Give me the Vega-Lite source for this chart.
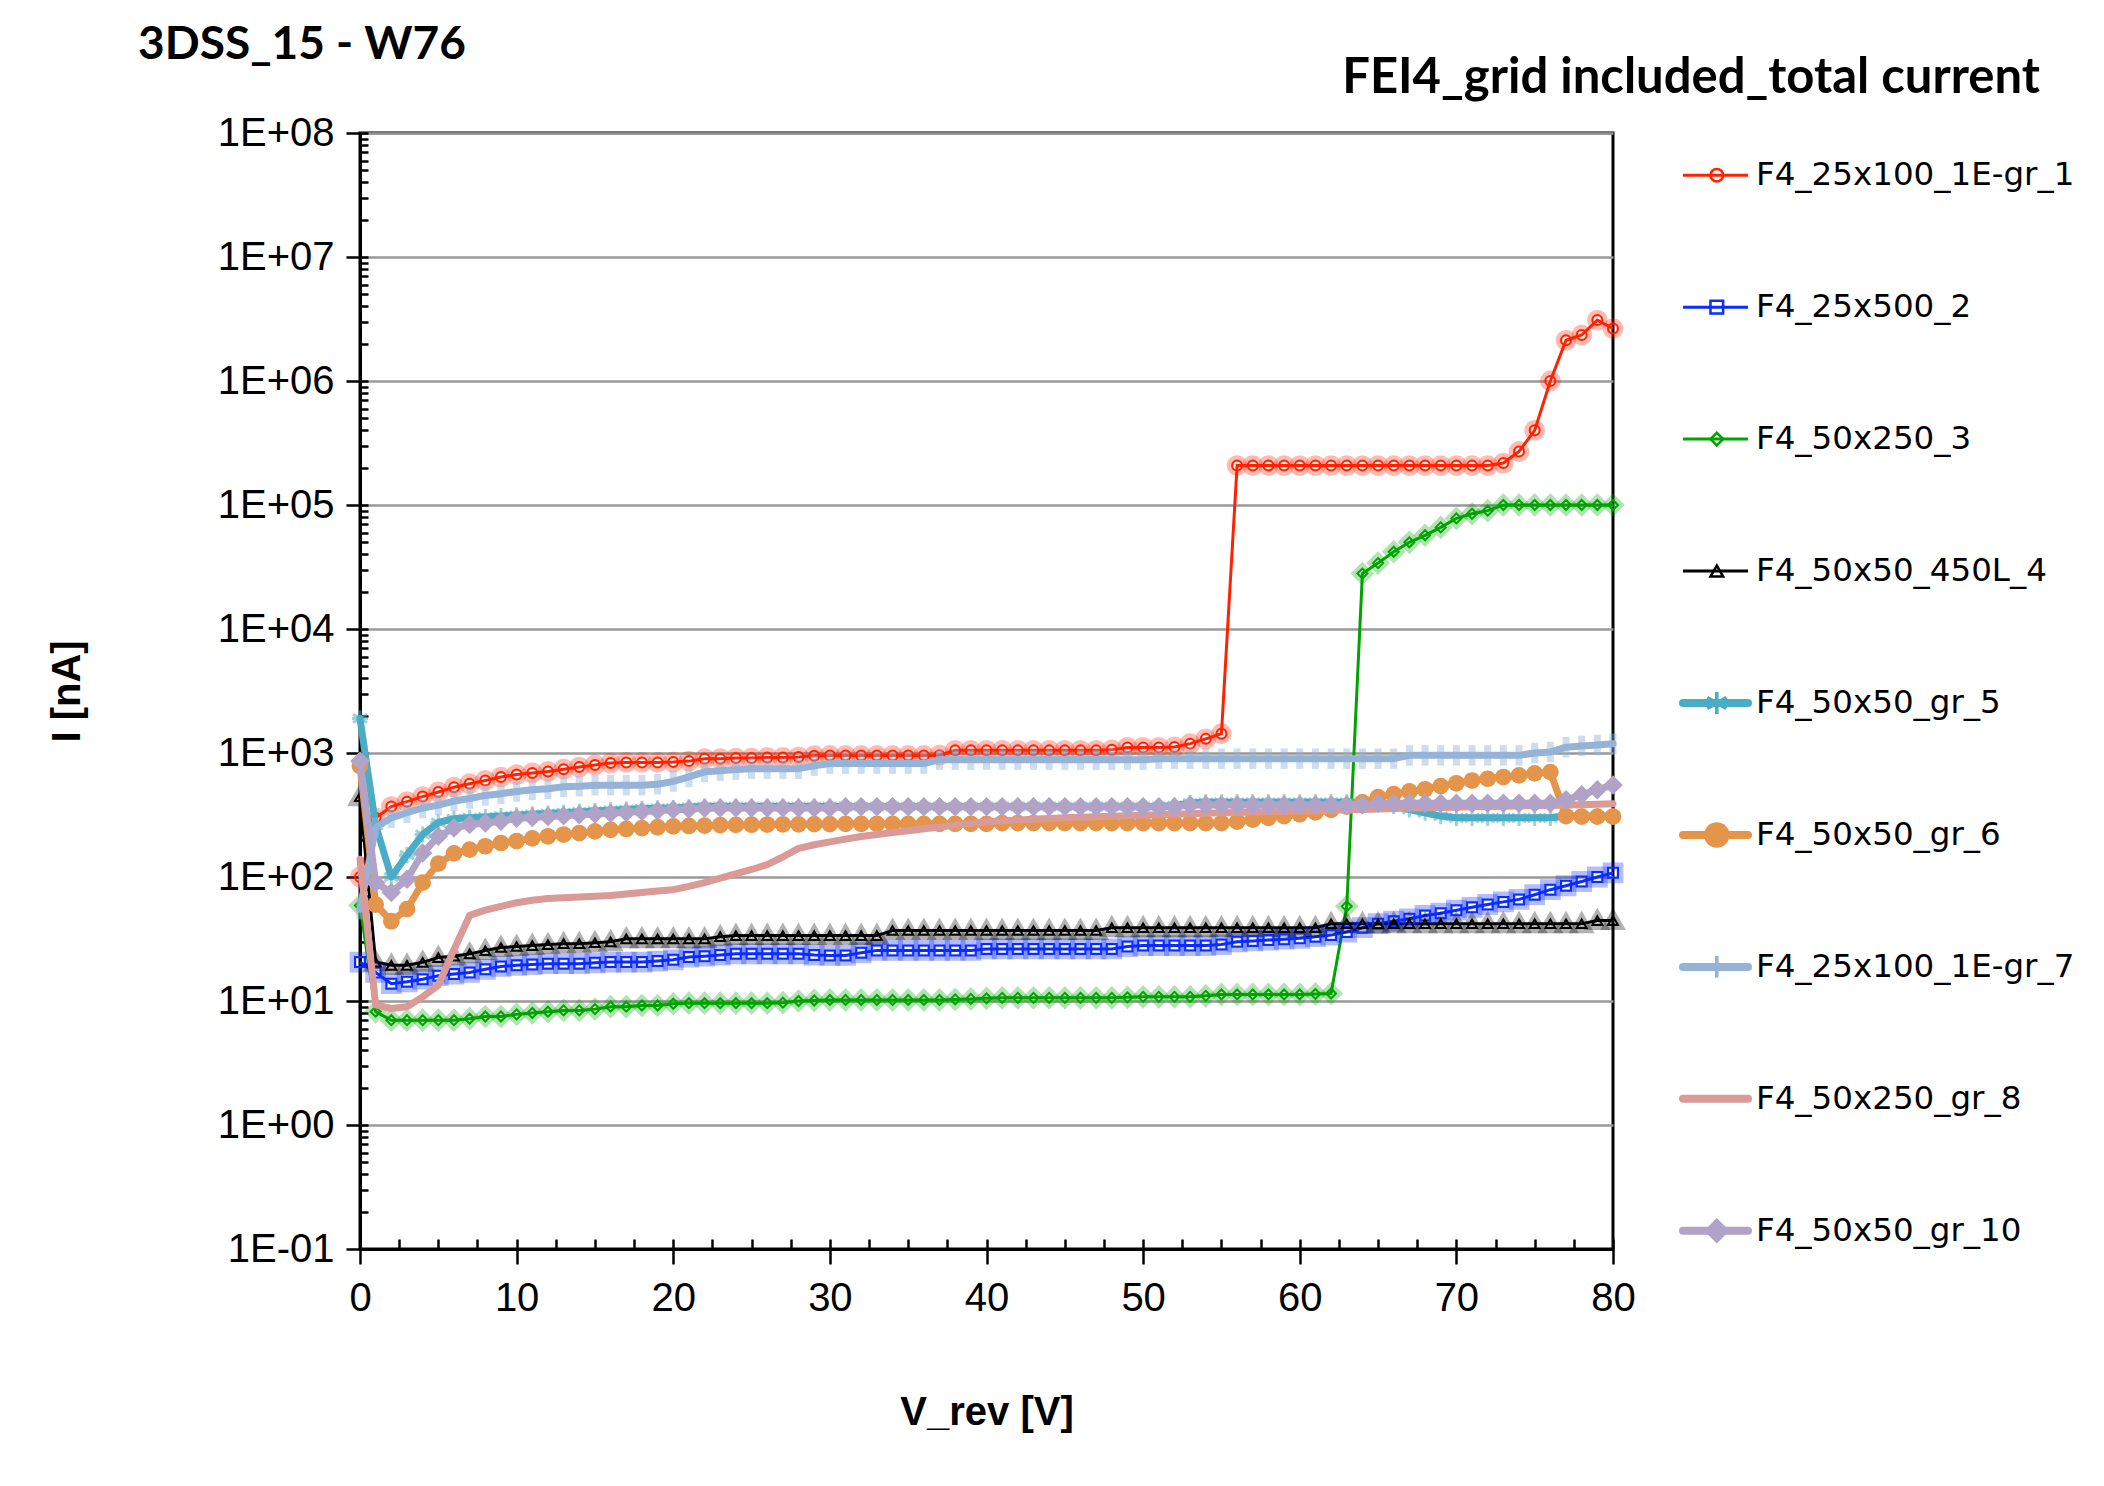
{
"$schema": "https://vega.github.io/schema/vega-lite/v6.json",
"background": "white",
"padding": {"left": 45, "top": 20, "right": 5, "bottom": 5},
"bounds": "flush",
"spacing": 70,
"config": {"font": "Liberation Sans", "view": {"stroke": null}},
"datasets": {
"series": [{"s":1,"name":"F4_25x100_1E-gr_1"},{"s":2,"name":"F4_25x500_2"},{"s":3,"name":"F4_50x250_3"},{"s":4,"name":"F4_50x50_450L_4"},{"s":5,"name":"F4_50x50_gr_5"},{"s":6,"name":"F4_50x50_gr_6"},{"s":7,"name":"F4_25x100_1E-gr_7"},{"s":8,"name":"F4_50x250_gr_8"},{"s":10,"name":"F4_50x50_gr_10"}],
"iv": [
{"s":1,"v":0,"i":100},{"s":1,"v":1,"i":300},{"s":1,"v":2,"i":370},{"s":1,"v":3,"i":405},{"s":1,"v":4,"i":445},{"s":1,"v":5,"i":485},{"s":1,"v":6,"i":530},{"s":1,"v":7,"i":565},{"s":1,"v":8,"i":600},{"s":1,"v":9,"i":640},{"s":1,"v":10,"i":670},{"s":1,"v":11,"i":690},{"s":1,"v":12,"i":710},{"s":1,"v":13,"i":740},{"s":1,"v":14,"i":770},{"s":1,"v":15,"i":800},{"s":1,"v":16,"i":830},{"s":1,"v":17,"i":840},{"s":1,"v":18,"i":840},{"s":1,"v":19,"i":840},{"s":1,"v":20,"i":845},{"s":1,"v":21,"i":860},{"s":1,"v":22,"i":900},{"s":1,"v":23,"i":900},{"s":1,"v":24,"i":910},{"s":1,"v":25,"i":910},{"s":1,"v":26,"i":920},{"s":1,"v":27,"i":920},{"s":1,"v":28,"i":930},{"s":1,"v":29,"i":950},{"s":1,"v":30,"i":955},{"s":1,"v":31,"i":955},{"s":1,"v":32,"i":955},{"s":1,"v":33,"i":955},{"s":1,"v":34,"i":955},{"s":1,"v":35,"i":955},{"s":1,"v":36,"i":955},{"s":1,"v":37,"i":960},{"s":1,"v":38,"i":1050},{"s":1,"v":39,"i":1050},{"s":1,"v":40,"i":1050},{"s":1,"v":41,"i":1050},{"s":1,"v":42,"i":1050},{"s":1,"v":43,"i":1050},{"s":1,"v":44,"i":1050},{"s":1,"v":45,"i":1050},{"s":1,"v":46,"i":1050},{"s":1,"v":47,"i":1050},{"s":1,"v":48,"i":1060},{"s":1,"v":49,"i":1110},{"s":1,"v":50,"i":1110},{"s":1,"v":51,"i":1110},{"s":1,"v":52,"i":1120},{"s":1,"v":53,"i":1190},{"s":1,"v":54,"i":1300},{"s":1,"v":55,"i":1430},{"s":1,"v":56,"i":208000},{"s":1,"v":57,"i":208000},{"s":1,"v":58,"i":208000},{"s":1,"v":59,"i":208000},{"s":1,"v":60,"i":208000},{"s":1,"v":61,"i":208000},{"s":1,"v":62,"i":208000},{"s":1,"v":63,"i":208000},{"s":1,"v":64,"i":208000},{"s":1,"v":65,"i":208000},{"s":1,"v":66,"i":208000},{"s":1,"v":67,"i":208000},{"s":1,"v":68,"i":208000},{"s":1,"v":69,"i":208000},{"s":1,"v":70,"i":208000},{"s":1,"v":71,"i":208000},{"s":1,"v":72,"i":208000},{"s":1,"v":73,"i":218000},{"s":1,"v":74,"i":270000},{"s":1,"v":75,"i":400000},{"s":1,"v":76,"i":1000000},{"s":1,"v":77,"i":2130000},{"s":1,"v":78,"i":2350000},{"s":1,"v":79,"i":3100000},{"s":1,"v":80,"i":2650000},
{"s":2,"v":0,"i":20.6},{"s":2,"v":1,"i":17},{"s":2,"v":2,"i":13.8},{"s":2,"v":3,"i":14.3},{"s":2,"v":4,"i":15},{"s":2,"v":5,"i":16},{"s":2,"v":6,"i":16.5},{"s":2,"v":7,"i":17},{"s":2,"v":8,"i":18},{"s":2,"v":9,"i":19},{"s":2,"v":10,"i":19.4},{"s":2,"v":11,"i":19.7},{"s":2,"v":12,"i":20},{"s":2,"v":13,"i":20},{"s":2,"v":14,"i":20},{"s":2,"v":15,"i":20.3},{"s":2,"v":16,"i":20.6},{"s":2,"v":17,"i":20.6},{"s":2,"v":18,"i":20.6},{"s":2,"v":19,"i":21},{"s":2,"v":20,"i":21.5},{"s":2,"v":21,"i":22.6},{"s":2,"v":22,"i":23},{"s":2,"v":23,"i":23.5},{"s":2,"v":24,"i":24},{"s":2,"v":25,"i":24},{"s":2,"v":26,"i":24},{"s":2,"v":27,"i":24},{"s":2,"v":28,"i":24},{"s":2,"v":29,"i":23.5},{"s":2,"v":30,"i":23.3},{"s":2,"v":31,"i":23.3},{"s":2,"v":32,"i":24.5},{"s":2,"v":33,"i":25.6},{"s":2,"v":34,"i":25.6},{"s":2,"v":35,"i":25.6},{"s":2,"v":36,"i":25.6},{"s":2,"v":37,"i":25.6},{"s":2,"v":38,"i":25.6},{"s":2,"v":39,"i":25.6},{"s":2,"v":40,"i":26.3},{"s":2,"v":41,"i":26.3},{"s":2,"v":42,"i":26.3},{"s":2,"v":43,"i":26.3},{"s":2,"v":44,"i":26.3},{"s":2,"v":45,"i":26.3},{"s":2,"v":46,"i":26.3},{"s":2,"v":47,"i":26.3},{"s":2,"v":48,"i":26.3},{"s":2,"v":49,"i":27.5},{"s":2,"v":50,"i":28},{"s":2,"v":51,"i":28},{"s":2,"v":52,"i":28},{"s":2,"v":53,"i":28},{"s":2,"v":54,"i":28},{"s":2,"v":55,"i":28.5},{"s":2,"v":56,"i":30},{"s":2,"v":57,"i":30.5},{"s":2,"v":58,"i":31},{"s":2,"v":59,"i":31.5},{"s":2,"v":60,"i":32},{"s":2,"v":61,"i":33},{"s":2,"v":62,"i":34},{"s":2,"v":63,"i":36},{"s":2,"v":64,"i":39},{"s":2,"v":65,"i":42},{"s":2,"v":66,"i":44},{"s":2,"v":67,"i":46},{"s":2,"v":68,"i":49},{"s":2,"v":69,"i":51},{"s":2,"v":70,"i":54},{"s":2,"v":71,"i":57},{"s":2,"v":72,"i":60},{"s":2,"v":73,"i":63},{"s":2,"v":74,"i":66},{"s":2,"v":75,"i":72},{"s":2,"v":76,"i":79},{"s":2,"v":77,"i":85},{"s":2,"v":78,"i":92},{"s":2,"v":79,"i":100},{"s":2,"v":80,"i":108},
{"s":3,"v":0,"i":59},{"s":3,"v":1,"i":8.2},{"s":3,"v":2,"i":7},{"s":3,"v":3,"i":7},{"s":3,"v":4,"i":7},{"s":3,"v":5,"i":7},{"s":3,"v":6,"i":7},{"s":3,"v":7,"i":7.2},{"s":3,"v":8,"i":7.5},{"s":3,"v":9,"i":7.5},{"s":3,"v":10,"i":7.8},{"s":3,"v":11,"i":8},{"s":3,"v":12,"i":8.2},{"s":3,"v":13,"i":8.4},{"s":3,"v":14,"i":8.4},{"s":3,"v":15,"i":8.6},{"s":3,"v":16,"i":9},{"s":3,"v":17,"i":9},{"s":3,"v":18,"i":9.2},{"s":3,"v":19,"i":9.2},{"s":3,"v":20,"i":9.5},{"s":3,"v":21,"i":9.6},{"s":3,"v":22,"i":9.6},{"s":3,"v":23,"i":9.6},{"s":3,"v":24,"i":9.6},{"s":3,"v":25,"i":9.6},{"s":3,"v":26,"i":9.6},{"s":3,"v":27,"i":9.7},{"s":3,"v":28,"i":10},{"s":3,"v":29,"i":10.1},{"s":3,"v":30,"i":10.2},{"s":3,"v":31,"i":10.2},{"s":3,"v":32,"i":10.2},{"s":3,"v":33,"i":10.2},{"s":3,"v":34,"i":10.2},{"s":3,"v":35,"i":10.2},{"s":3,"v":36,"i":10.2},{"s":3,"v":37,"i":10.2},{"s":3,"v":38,"i":10.3},{"s":3,"v":39,"i":10.4},{"s":3,"v":40,"i":10.5},{"s":3,"v":41,"i":10.6},{"s":3,"v":42,"i":10.6},{"s":3,"v":43,"i":10.6},{"s":3,"v":44,"i":10.6},{"s":3,"v":45,"i":10.6},{"s":3,"v":46,"i":10.6},{"s":3,"v":47,"i":10.6},{"s":3,"v":48,"i":10.6},{"s":3,"v":49,"i":10.7},{"s":3,"v":50,"i":10.8},{"s":3,"v":51,"i":10.8},{"s":3,"v":52,"i":10.8},{"s":3,"v":53,"i":10.8},{"s":3,"v":54,"i":11},{"s":3,"v":55,"i":11.3},{"s":3,"v":56,"i":11.3},{"s":3,"v":57,"i":11.3},{"s":3,"v":58,"i":11.3},{"s":3,"v":59,"i":11.3},{"s":3,"v":60,"i":11.3},{"s":3,"v":61,"i":11.4},{"s":3,"v":62,"i":11.5},{"s":3,"v":63,"i":58},{"s":3,"v":64,"i":28000},{"s":3,"v":65,"i":34000},{"s":3,"v":66,"i":42000},{"s":3,"v":67,"i":50000},{"s":3,"v":68,"i":57000},{"s":3,"v":69,"i":66000},{"s":3,"v":70,"i":78000},{"s":3,"v":71,"i":85000},{"s":3,"v":72,"i":90000},{"s":3,"v":73,"i":100000},{"s":3,"v":74,"i":100000},{"s":3,"v":75,"i":100000},{"s":3,"v":76,"i":100000},{"s":3,"v":77,"i":100000},{"s":3,"v":78,"i":100000},{"s":3,"v":79,"i":100000},{"s":3,"v":80,"i":100000},
{"s":4,"v":0,"i":444},{"s":4,"v":1,"i":20.6},{"s":4,"v":2,"i":19.4},{"s":4,"v":3,"i":19.4},{"s":4,"v":4,"i":20.5},{"s":4,"v":5,"i":22.4},{"s":4,"v":6,"i":23},{"s":4,"v":7,"i":24},{"s":4,"v":8,"i":25.5},{"s":4,"v":9,"i":27},{"s":4,"v":10,"i":27.5},{"s":4,"v":11,"i":28},{"s":4,"v":12,"i":28.5},{"s":4,"v":13,"i":29},{"s":4,"v":14,"i":29},{"s":4,"v":15,"i":29.5},{"s":4,"v":16,"i":30},{"s":4,"v":17,"i":31.7},{"s":4,"v":18,"i":31.7},{"s":4,"v":19,"i":31.7},{"s":4,"v":20,"i":31.7},{"s":4,"v":21,"i":31.7},{"s":4,"v":22,"i":31.7},{"s":4,"v":23,"i":33},{"s":4,"v":24,"i":33.7},{"s":4,"v":25,"i":33.7},{"s":4,"v":26,"i":33.7},{"s":4,"v":27,"i":33.7},{"s":4,"v":28,"i":33.7},{"s":4,"v":29,"i":33.7},{"s":4,"v":30,"i":33.7},{"s":4,"v":31,"i":33.7},{"s":4,"v":32,"i":33.7},{"s":4,"v":33,"i":33.7},{"s":4,"v":34,"i":37},{"s":4,"v":35,"i":37},{"s":4,"v":36,"i":37},{"s":4,"v":37,"i":37},{"s":4,"v":38,"i":37},{"s":4,"v":39,"i":37},{"s":4,"v":40,"i":37},{"s":4,"v":41,"i":37},{"s":4,"v":42,"i":37},{"s":4,"v":43,"i":37},{"s":4,"v":44,"i":37},{"s":4,"v":45,"i":37},{"s":4,"v":46,"i":37},{"s":4,"v":47,"i":37},{"s":4,"v":48,"i":39},{"s":4,"v":49,"i":39},{"s":4,"v":50,"i":39},{"s":4,"v":51,"i":39},{"s":4,"v":52,"i":39},{"s":4,"v":53,"i":39},{"s":4,"v":54,"i":39},{"s":4,"v":55,"i":39},{"s":4,"v":56,"i":39},{"s":4,"v":57,"i":39},{"s":4,"v":58,"i":39},{"s":4,"v":59,"i":39},{"s":4,"v":60,"i":39},{"s":4,"v":61,"i":39},{"s":4,"v":62,"i":42},{"s":4,"v":63,"i":42},{"s":4,"v":64,"i":42},{"s":4,"v":65,"i":42},{"s":4,"v":66,"i":42},{"s":4,"v":67,"i":42},{"s":4,"v":68,"i":42},{"s":4,"v":69,"i":42},{"s":4,"v":70,"i":42},{"s":4,"v":71,"i":42},{"s":4,"v":72,"i":42},{"s":4,"v":73,"i":42},{"s":4,"v":74,"i":42},{"s":4,"v":75,"i":42},{"s":4,"v":76,"i":42},{"s":4,"v":77,"i":42},{"s":4,"v":78,"i":42},{"s":4,"v":79,"i":44.5},{"s":4,"v":80,"i":44.5},
{"s":5,"v":0,"i":1900},{"s":5,"v":1,"i":260},{"s":5,"v":2,"i":100},{"s":5,"v":3,"i":150},{"s":5,"v":4,"i":220},{"s":5,"v":5,"i":275},{"s":5,"v":6,"i":295},{"s":5,"v":7,"i":300},{"s":5,"v":8,"i":305},{"s":5,"v":9,"i":310},{"s":5,"v":10,"i":315},{"s":5,"v":11,"i":320},{"s":5,"v":12,"i":325},{"s":5,"v":13,"i":330},{"s":5,"v":14,"i":335},{"s":5,"v":15,"i":340},{"s":5,"v":16,"i":345},{"s":5,"v":17,"i":350},{"s":5,"v":18,"i":355},{"s":5,"v":19,"i":358},{"s":5,"v":20,"i":360},{"s":5,"v":21,"i":365},{"s":5,"v":22,"i":370},{"s":5,"v":23,"i":370},{"s":5,"v":24,"i":370},{"s":5,"v":25,"i":370},{"s":5,"v":26,"i":370},{"s":5,"v":27,"i":370},{"s":5,"v":28,"i":370},{"s":5,"v":29,"i":370},{"s":5,"v":30,"i":370},{"s":5,"v":31,"i":370},{"s":5,"v":32,"i":370},{"s":5,"v":33,"i":370},{"s":5,"v":34,"i":370},{"s":5,"v":35,"i":370},{"s":5,"v":36,"i":370},{"s":5,"v":37,"i":370},{"s":5,"v":38,"i":370},{"s":5,"v":39,"i":370},{"s":5,"v":40,"i":370},{"s":5,"v":41,"i":370},{"s":5,"v":42,"i":370},{"s":5,"v":43,"i":370},{"s":5,"v":44,"i":370},{"s":5,"v":45,"i":370},{"s":5,"v":46,"i":370},{"s":5,"v":47,"i":370},{"s":5,"v":48,"i":370},{"s":5,"v":49,"i":370},{"s":5,"v":50,"i":370},{"s":5,"v":51,"i":370},{"s":5,"v":52,"i":375},{"s":5,"v":53,"i":395},{"s":5,"v":54,"i":400},{"s":5,"v":55,"i":400},{"s":5,"v":56,"i":400},{"s":5,"v":57,"i":400},{"s":5,"v":58,"i":400},{"s":5,"v":59,"i":400},{"s":5,"v":60,"i":400},{"s":5,"v":61,"i":400},{"s":5,"v":62,"i":400},{"s":5,"v":63,"i":400},{"s":5,"v":64,"i":400},{"s":5,"v":65,"i":390},{"s":5,"v":66,"i":375},{"s":5,"v":67,"i":350},{"s":5,"v":68,"i":330},{"s":5,"v":69,"i":310},{"s":5,"v":70,"i":300},{"s":5,"v":71,"i":300},{"s":5,"v":72,"i":300},{"s":5,"v":73,"i":300},{"s":5,"v":74,"i":300},{"s":5,"v":75,"i":300},{"s":5,"v":76,"i":300},{"s":5,"v":77,"i":310},{"s":5,"v":78,"i":310},{"s":5,"v":79,"i":310},{"s":5,"v":80,"i":310},
{"s":6,"v":0,"i":783},{"s":6,"v":1,"i":60},{"s":6,"v":2,"i":44},{"s":6,"v":3,"i":55},{"s":6,"v":4,"i":90},{"s":6,"v":5,"i":128},{"s":6,"v":6,"i":155},{"s":6,"v":7,"i":166},{"s":6,"v":8,"i":177},{"s":6,"v":9,"i":188},{"s":6,"v":10,"i":195},{"s":6,"v":11,"i":205},{"s":6,"v":12,"i":213},{"s":6,"v":13,"i":220},{"s":6,"v":14,"i":226},{"s":6,"v":15,"i":233},{"s":6,"v":16,"i":240},{"s":6,"v":17,"i":244},{"s":6,"v":18,"i":248},{"s":6,"v":19,"i":252},{"s":6,"v":20,"i":256},{"s":6,"v":21,"i":258},{"s":6,"v":22,"i":260},{"s":6,"v":23,"i":262},{"s":6,"v":24,"i":263},{"s":6,"v":25,"i":264},{"s":6,"v":26,"i":265},{"s":6,"v":27,"i":266},{"s":6,"v":28,"i":266},{"s":6,"v":29,"i":267},{"s":6,"v":30,"i":267},{"s":6,"v":31,"i":268},{"s":6,"v":32,"i":268},{"s":6,"v":33,"i":268},{"s":6,"v":34,"i":268},{"s":6,"v":35,"i":268},{"s":6,"v":36,"i":268},{"s":6,"v":37,"i":268},{"s":6,"v":38,"i":268},{"s":6,"v":39,"i":268},{"s":6,"v":40,"i":268},{"s":6,"v":41,"i":272},{"s":6,"v":42,"i":272},{"s":6,"v":43,"i":272},{"s":6,"v":44,"i":272},{"s":6,"v":45,"i":272},{"s":6,"v":46,"i":272},{"s":6,"v":47,"i":272},{"s":6,"v":48,"i":272},{"s":6,"v":49,"i":272},{"s":6,"v":50,"i":272},{"s":6,"v":51,"i":272},{"s":6,"v":52,"i":272},{"s":6,"v":53,"i":272},{"s":6,"v":54,"i":272},{"s":6,"v":55,"i":272},{"s":6,"v":56,"i":280},{"s":6,"v":57,"i":290},{"s":6,"v":58,"i":300},{"s":6,"v":59,"i":310},{"s":6,"v":60,"i":320},{"s":6,"v":61,"i":332},{"s":6,"v":62,"i":348},{"s":6,"v":63,"i":370},{"s":6,"v":64,"i":400},{"s":6,"v":65,"i":440},{"s":6,"v":66,"i":465},{"s":6,"v":67,"i":490},{"s":6,"v":68,"i":510},{"s":6,"v":69,"i":540},{"s":6,"v":70,"i":570},{"s":6,"v":71,"i":600},{"s":6,"v":72,"i":620},{"s":6,"v":73,"i":640},{"s":6,"v":74,"i":660},{"s":6,"v":75,"i":685},{"s":6,"v":76,"i":700},{"s":6,"v":77,"i":310},{"s":6,"v":78,"i":307},{"s":6,"v":79,"i":307},{"s":6,"v":80,"i":307},
{"s":7,"v":0,"i":55},{"s":7,"v":1,"i":250},{"s":7,"v":2,"i":300},{"s":7,"v":3,"i":330},{"s":7,"v":4,"i":360},{"s":7,"v":5,"i":380},{"s":7,"v":6,"i":410},{"s":7,"v":7,"i":430},{"s":7,"v":8,"i":455},{"s":7,"v":9,"i":470},{"s":7,"v":10,"i":490},{"s":7,"v":11,"i":505},{"s":7,"v":12,"i":515},{"s":7,"v":13,"i":534},{"s":7,"v":14,"i":540},{"s":7,"v":15,"i":550},{"s":7,"v":16,"i":550},{"s":7,"v":17,"i":550},{"s":7,"v":18,"i":550},{"s":7,"v":19,"i":560},{"s":7,"v":20,"i":590},{"s":7,"v":21,"i":643},{"s":7,"v":22,"i":705},{"s":7,"v":23,"i":720},{"s":7,"v":24,"i":735},{"s":7,"v":25,"i":748},{"s":7,"v":26,"i":748},{"s":7,"v":27,"i":748},{"s":7,"v":28,"i":748},{"s":7,"v":29,"i":790},{"s":7,"v":30,"i":821},{"s":7,"v":31,"i":821},{"s":7,"v":32,"i":821},{"s":7,"v":33,"i":821},{"s":7,"v":34,"i":821},{"s":7,"v":35,"i":821},{"s":7,"v":36,"i":821},{"s":7,"v":37,"i":884},{"s":7,"v":38,"i":884},{"s":7,"v":39,"i":884},{"s":7,"v":40,"i":884},{"s":7,"v":41,"i":884},{"s":7,"v":42,"i":884},{"s":7,"v":43,"i":884},{"s":7,"v":44,"i":884},{"s":7,"v":45,"i":884},{"s":7,"v":46,"i":884},{"s":7,"v":47,"i":884},{"s":7,"v":48,"i":884},{"s":7,"v":49,"i":884},{"s":7,"v":50,"i":884},{"s":7,"v":51,"i":900},{"s":7,"v":52,"i":900},{"s":7,"v":53,"i":900},{"s":7,"v":54,"i":900},{"s":7,"v":55,"i":900},{"s":7,"v":56,"i":900},{"s":7,"v":57,"i":900},{"s":7,"v":58,"i":900},{"s":7,"v":59,"i":900},{"s":7,"v":60,"i":900},{"s":7,"v":61,"i":900},{"s":7,"v":62,"i":900},{"s":7,"v":63,"i":900},{"s":7,"v":64,"i":900},{"s":7,"v":65,"i":900},{"s":7,"v":66,"i":900},{"s":7,"v":67,"i":957},{"s":7,"v":68,"i":957},{"s":7,"v":69,"i":957},{"s":7,"v":70,"i":957},{"s":7,"v":71,"i":957},{"s":7,"v":72,"i":957},{"s":7,"v":73,"i":957},{"s":7,"v":74,"i":957},{"s":7,"v":75,"i":1000},{"s":7,"v":76,"i":1018},{"s":7,"v":77,"i":1115},{"s":7,"v":78,"i":1140},{"s":7,"v":79,"i":1160},{"s":7,"v":80,"i":1186},
{"s":8,"v":0,"i":139},{"s":8,"v":1,"i":9.3},{"s":8,"v":2,"i":8.7},{"s":8,"v":3,"i":9},{"s":8,"v":4,"i":10.8},{"s":8,"v":5,"i":13.4},{"s":8,"v":6,"i":26},{"s":8,"v":7,"i":49},{"s":8,"v":8,"i":54},{"s":8,"v":9,"i":58},{"s":8,"v":10,"i":62},{"s":8,"v":11,"i":65},{"s":8,"v":12,"i":67},{"s":8,"v":13,"i":68},{"s":8,"v":14,"i":69},{"s":8,"v":15,"i":70},{"s":8,"v":16,"i":71},{"s":8,"v":17,"i":73},{"s":8,"v":18,"i":75},{"s":8,"v":19,"i":77},{"s":8,"v":20,"i":79},{"s":8,"v":21,"i":84},{"s":8,"v":22,"i":90},{"s":8,"v":23,"i":98},{"s":8,"v":24,"i":106},{"s":8,"v":25,"i":115},{"s":8,"v":26,"i":126},{"s":8,"v":27,"i":145},{"s":8,"v":28,"i":170},{"s":8,"v":29,"i":182},{"s":8,"v":30,"i":192},{"s":8,"v":31,"i":202},{"s":8,"v":32,"i":212},{"s":8,"v":33,"i":220},{"s":8,"v":34,"i":228},{"s":8,"v":35,"i":236},{"s":8,"v":36,"i":245},{"s":8,"v":37,"i":253},{"s":8,"v":38,"i":262},{"s":8,"v":39,"i":270},{"s":8,"v":40,"i":278},{"s":8,"v":41,"i":284},{"s":8,"v":42,"i":288},{"s":8,"v":43,"i":292},{"s":8,"v":44,"i":296},{"s":8,"v":45,"i":300},{"s":8,"v":46,"i":303},{"s":8,"v":47,"i":306},{"s":8,"v":48,"i":309},{"s":8,"v":49,"i":312},{"s":8,"v":50,"i":315},{"s":8,"v":51,"i":318},{"s":8,"v":52,"i":320},{"s":8,"v":53,"i":323},{"s":8,"v":54,"i":326},{"s":8,"v":55,"i":329},{"s":8,"v":56,"i":332},{"s":8,"v":57,"i":334},{"s":8,"v":58,"i":336},{"s":8,"v":59,"i":338},{"s":8,"v":60,"i":340},{"s":8,"v":61,"i":342},{"s":8,"v":62,"i":345},{"s":8,"v":63,"i":348},{"s":8,"v":64,"i":351},{"s":8,"v":65,"i":354},{"s":8,"v":66,"i":357},{"s":8,"v":67,"i":360},{"s":8,"v":68,"i":362},{"s":8,"v":69,"i":364},{"s":8,"v":70,"i":366},{"s":8,"v":71,"i":368},{"s":8,"v":72,"i":370},{"s":8,"v":73,"i":372},{"s":8,"v":74,"i":374},{"s":8,"v":75,"i":376},{"s":8,"v":76,"i":378},{"s":8,"v":77,"i":380},{"s":8,"v":78,"i":383},{"s":8,"v":79,"i":386},{"s":8,"v":80,"i":390},
{"s":10,"v":0,"i":860},{"s":10,"v":1,"i":90},{"s":10,"v":2,"i":75},{"s":10,"v":3,"i":96},{"s":10,"v":4,"i":156},{"s":10,"v":5,"i":213},{"s":10,"v":6,"i":248},{"s":10,"v":7,"i":265},{"s":10,"v":8,"i":272},{"s":10,"v":9,"i":282},{"s":10,"v":10,"i":298},{"s":10,"v":11,"i":302},{"s":10,"v":12,"i":307},{"s":10,"v":13,"i":312},{"s":10,"v":14,"i":317},{"s":10,"v":15,"i":322},{"s":10,"v":16,"i":327},{"s":10,"v":17,"i":332},{"s":10,"v":18,"i":337},{"s":10,"v":19,"i":342},{"s":10,"v":20,"i":348},{"s":10,"v":21,"i":352},{"s":10,"v":22,"i":358},{"s":10,"v":23,"i":360},{"s":10,"v":24,"i":360},{"s":10,"v":25,"i":360},{"s":10,"v":26,"i":360},{"s":10,"v":27,"i":360},{"s":10,"v":28,"i":360},{"s":10,"v":29,"i":360},{"s":10,"v":30,"i":360},{"s":10,"v":31,"i":369},{"s":10,"v":32,"i":369},{"s":10,"v":33,"i":369},{"s":10,"v":34,"i":369},{"s":10,"v":35,"i":369},{"s":10,"v":36,"i":369},{"s":10,"v":37,"i":369},{"s":10,"v":38,"i":369},{"s":10,"v":39,"i":369},{"s":10,"v":40,"i":369},{"s":10,"v":41,"i":369},{"s":10,"v":42,"i":369},{"s":10,"v":43,"i":369},{"s":10,"v":44,"i":369},{"s":10,"v":45,"i":369},{"s":10,"v":46,"i":369},{"s":10,"v":47,"i":369},{"s":10,"v":48,"i":369},{"s":10,"v":49,"i":369},{"s":10,"v":50,"i":369},{"s":10,"v":51,"i":369},{"s":10,"v":52,"i":369},{"s":10,"v":53,"i":380},{"s":10,"v":54,"i":380},{"s":10,"v":55,"i":380},{"s":10,"v":56,"i":380},{"s":10,"v":57,"i":380},{"s":10,"v":58,"i":380},{"s":10,"v":59,"i":380},{"s":10,"v":60,"i":380},{"s":10,"v":61,"i":380},{"s":10,"v":62,"i":380},{"s":10,"v":63,"i":380},{"s":10,"v":64,"i":380},{"s":10,"v":65,"i":393},{"s":10,"v":66,"i":393},{"s":10,"v":67,"i":393},{"s":10,"v":68,"i":393},{"s":10,"v":69,"i":393},{"s":10,"v":70,"i":393},{"s":10,"v":71,"i":393},{"s":10,"v":72,"i":393},{"s":10,"v":73,"i":393},{"s":10,"v":74,"i":393},{"s":10,"v":75,"i":393},{"s":10,"v":76,"i":393},{"s":10,"v":77,"i":420},{"s":10,"v":78,"i":460},{"s":10,"v":79,"i":505},{"s":10,"v":80,"i":553}
]
},
"hconcat": [
{
"width": 1253, "height": 1116,
"view": {"stroke": "black", "strokeWidth": 3},
"title": {"text": "3DSS_15 - W76", "anchor": "start", "frame": "group", "dx": -222, "offset": 44, "font": "Lato", "fontSize": 46, "fontWeight": "bold", "color": "black"},
"data": {"name": "iv"},
"encoding": {
"x": {"field": "v", "type": "quantitative", "scale": {"domain": [0, 80], "nice": false, "zero": false}, "axis": null},
"y": {"field": "i", "type": "quantitative", "scale": {"type": "log", "domain": [0.1, 100000000], "nice": false}, "axis": null},
"color": {"field": "s", "type": "nominal", "scale": {"domain": [1,2,3,4,5,6,7,8,10], "range": ["#ff2200","#0a2cff","#00a300","#000000","#4bacc6","#e4954b","#95b3d7","#d99a98","#b1a3c8"]}, "legend": null}
},
"resolve": {"axis": {"x": "independent", "y": "independent"}},
"layer": [
{"transform": [{"filter": "datum.s <= 4"}],
 "mark": {"type": "line", "strokeWidth": 3},
 "encoding": {
  "x": {"field": "v", "type": "quantitative", "scale": {"domain": [0, 80], "nice": false, "zero": false},
   "axis": {"orient": "bottom", "values": [0,10,20,30,40,50,60,70,80], "format": "d", "grid": false, "domainColor": "black", "domainWidth": 3, "tickColor": "black", "tickWidth": 2.5, "tickSize": 15, "labelFont": "Liberation Sans", "labelFontSize": 40, "labelColor": "black", "labelPadding": 14, "labelFlush": false, "title": "V_rev [V]", "titleFont": "Liberation Sans", "titleFontSize": 40, "titleFontWeight": "bold", "titleColor": "black", "titlePadding": 74}},
  "y": {"field": "i", "type": "quantitative", "scale": {"type": "log", "domain": [0.1, 100000000], "nice": false},
   "axis": {"orient": "left", "values": [0.1,1,10,100,1000,10000,100000,1000000,10000000,100000000], "labelExpr": "'1E' + (datum.value < 1 ? '-' : '+') + '0' + abs(round(log(datum.value) / LN10))", "grid": true, "gridColor": "#999999", "gridWidth": 2.5, "domainColor": "black", "domainWidth": 3, "tickColor": "black", "tickWidth": 2.5, "tickSize": 14, "labelFont": "Liberation Sans", "labelFontSize": 40, "labelColor": "black", "labelPadding": 12, "labelFlush": false, "title": "I [nA]", "titleFont": "Liberation Sans", "titleFontSize": 40, "titleFontWeight": "bold", "titleColor": "black", "titlePadding": 130}}
 }},
{"transform": [{"filter": "datum.s <= 4"}],
 "mark": {"type": "point", "filled": false, "strokeWidth": 7, "opacity": 0.3, "size": 190},
 "encoding": {
  "x": {"field": "v", "type": "quantitative", "scale": {"domain": [0, 80], "nice": false, "zero": false},
   "axis": {"orient": "bottom", "values": [0,2.5,5,7.5,10,12.5,15,17.5,20,22.5,25,27.5,30,32.5,35,37.5,40,42.5,45,47.5,50,52.5,55,57.5,60,62.5,65,67.5,70,72.5,75,77.5,80], "labels": false, "domain": false, "grid": false, "tickColor": "black", "tickWidth": 2.5, "tickSize": -10, "title": null}},
  "y": {"field": "i", "type": "quantitative", "scale": {"type": "log", "domain": [0.1, 100000000], "nice": false},
   "axis": {"orient": "left", "values": [0.1,0.2,0.3,0.4,0.5,0.6,0.7,0.8,0.9,1,2,3,4,5,6,7,8,9,10,20,30,40,50,60,70,80,90,100,200,300,400,500,600,700,800,900,1000,2000,3000,4000,5000,6000,7000,8000,9000,10000,20000,30000,40000,50000,60000,70000,80000,90000,100000,200000,300000,400000,500000,600000,700000,800000,900000,1000000,2000000,3000000,4000000,5000000,6000000,7000000,8000000,9000000,10000000,20000000,30000000,40000000,50000000,60000000,70000000,80000000,90000000,100000000], "labels": false, "domain": false, "grid": false, "tickColor": "black", "tickWidth": 2.5, "tickSize": -8, "title": null}},
  "shape": {"field": "s", "type": "nominal", "scale": {"domain": [1,2,3,4,5,6,7,8,10], "range": ["circle","square","diamond","triangle-up","M0,-1V1M-0.87,-0.5L0.87,0.5M-0.87,0.5L0.87,-0.5","circle","M-1,0H1M0,-1V1","M-1,0H1","diamond"]}, "legend": null}
 }},
{"transform": [{"filter": "datum.s <= 4"}],
 "mark": {"type": "point", "filled": false, "strokeWidth": 2, "opacity": 1, "size": 100},
 "encoding": {
  "shape": {"field": "s", "type": "nominal", "scale": {"domain": [1,2,3,4,5,6,7,8,10], "range": ["circle","square","diamond","triangle-up","M0,-1V1M-0.87,-0.5L0.87,0.5M-0.87,0.5L0.87,-0.5","circle","M-1,0H1M0,-1V1","M-1,0H1","diamond"]}, "legend": null}
 }},
{"transform": [{"filter": "datum.s == 5"}], "mark": {"type": "line", "strokeWidth": 7, "strokeCap": "round", "strokeJoin": "round"}},
{"transform": [{"filter": "datum.s == 5"}], "mark": {"type": "point", "shape": "M0,-1V1M-0.87,-0.5L0.87,0.5M-0.87,0.5L0.87,-0.5M-1,0H1", "filled": false, "strokeWidth": 3, "size": 260, "opacity": 0.55}},
{"transform": [{"filter": "datum.s == 6"}], "mark": {"type": "line", "strokeWidth": 7, "strokeCap": "round", "strokeJoin": "round"}},
{"transform": [{"filter": "datum.s == 6"}], "mark": {"type": "point", "shape": "circle", "filled": true, "size": 280, "opacity": 1}},
{"transform": [{"filter": "datum.s == 7"}], "mark": {"type": "line", "strokeWidth": 7, "strokeCap": "round", "strokeJoin": "round"}},
{"transform": [{"filter": "datum.s == 7"}], "mark": {"type": "point", "shape": "M0,-1V1", "filled": false, "strokeWidth": 7, "size": 420, "opacity": 0.45}},
{"transform": [{"filter": "datum.s == 8"}], "mark": {"type": "line", "strokeWidth": 7, "strokeCap": "round", "strokeJoin": "round"}},
{"transform": [{"filter": "datum.s == 10"}], "mark": {"type": "line", "strokeWidth": 7, "strokeCap": "round", "strokeJoin": "round"}},
{"transform": [{"filter": "datum.s == 10"}], "mark": {"type": "point", "shape": "diamond", "filled": true, "size": 380, "opacity": 1}}
]
},
{
"width": 65, "height": 1140,
"view": {"stroke": null},
"title": {"text": "FEI4_grid included_total current", "anchor": "end", "frame": "group", "dx": 292, "offset": 30, "font": "Lato", "fontSize": 49, "fontWeight": "bold", "color": "black"},
"data": {"name": "series"},
"encoding": {
"y": {"field": "s", "type": "ordinal", "scale": {"type": "point", "padding": 0.32}, "axis": null},
"color": {"field": "s", "type": "nominal", "scale": {"domain": [1,2,3,4,5,6,7,8,10], "range": ["#ff2200","#0a2cff","#00a300","#000000","#4bacc6","#e4954b","#95b3d7","#d99a98","#b1a3c8"]}, "legend": null}
},
"layer": [
{"transform": [{"filter": "datum.s <= 4"}], "mark": {"type": "rule", "strokeWidth": 3},
 "encoding": {"x": {"datum": 0, "type": "quantitative", "scale": {"domain": [0, 1], "nice": false}, "axis": null}, "x2": {"datum": 1}}},
{"transform": [{"filter": "datum.s >= 5"}], "mark": {"type": "rule", "strokeWidth": 8, "strokeCap": "round"},
 "encoding": {"x": {"datum": 0, "type": "quantitative", "scale": {"domain": [0, 1], "nice": false}, "axis": null}, "x2": {"datum": 1}}},
{"transform": [{"filter": "datum.s <= 4"}], "mark": {"type": "point", "filled": false, "strokeWidth": 2.5, "size": 160, "opacity": 1},
 "encoding": {"x": {"datum": 0.52, "type": "quantitative", "scale": {"domain": [0, 1], "nice": false}, "axis": null},
  "shape": {"field": "s", "type": "nominal", "scale": {"domain": [1,2,3,4,5,6,7,8,10], "range": ["circle","square","diamond","triangle-up","M0,-1V1M-0.87,-0.5L0.87,0.5M-0.87,0.5L0.87,-0.5","circle","M-1,0H1M0,-1V1","M-1,0H1","diamond"]}, "legend": null}}},
{"transform": [{"filter": "datum.s == 5 || datum.s == 7"}], "mark": {"type": "point", "filled": false, "strokeWidth": 3.5, "size": 480, "opacity": 1},
 "encoding": {"x": {"datum": 0.52, "type": "quantitative", "scale": {"domain": [0, 1], "nice": false}, "axis": null},
  "shape": {"field": "s", "type": "nominal", "scale": {"domain": [1,2,3,4,5,6,7,8,10], "range": ["circle","square","diamond","triangle-up","M0,-1V1M-0.87,-0.5L0.87,0.5M-0.87,0.5L0.87,-0.5","circle","M-1,0H1M0,-1V1","M-1,0H1","diamond"]}, "legend": null}}},
{"transform": [{"filter": "datum.s == 6 || datum.s == 10"}], "mark": {"type": "point", "filled": true, "size": 650, "opacity": 1},
 "encoding": {"x": {"datum": 0.52, "type": "quantitative", "scale": {"domain": [0, 1], "nice": false}, "axis": null},
  "shape": {"field": "s", "type": "nominal", "scale": {"domain": [1,2,3,4,5,6,7,8,10], "range": ["circle","square","diamond","triangle-up","M0,-1V1M-0.87,-0.5L0.87,0.5M-0.87,0.5L0.87,-0.5","circle","M-1,0H1M0,-1V1","M-1,0H1","diamond"]}, "legend": null}}},
{"mark": {"type": "text", "align": "left", "baseline": "middle", "dx": 8, "font": "DejaVu Sans", "fontSize": 32.5, "color": "black"},
 "encoding": {"x": {"datum": 1, "type": "quantitative", "scale": {"domain": [0, 1], "nice": false}, "axis": null}, "text": {"field": "name"}, "color": {"value": "black"}}}
]
}
]
}
